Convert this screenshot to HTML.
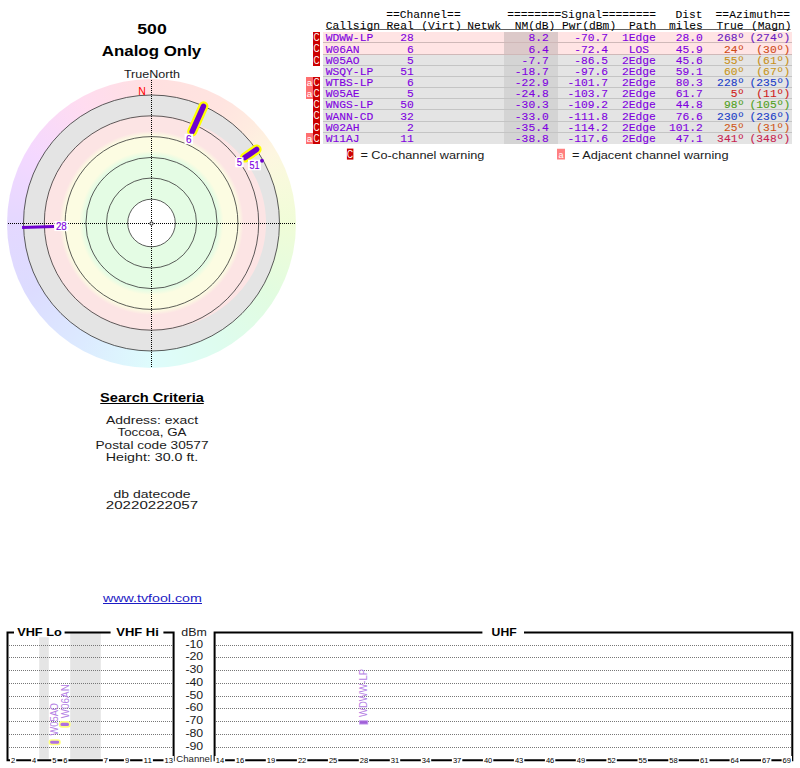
<!DOCTYPE html>
<html><head><meta charset="utf-8"><style>
html,body{margin:0;padding:0;background:#fff;width:800px;height:768px;overflow:hidden;position:relative}
#ring{position:absolute;left:7.0px;top:78.5px;width:289.0px;height:289.0px;border-radius:50%;
background:conic-gradient(from 0deg, #ffe0e0 0deg, #ffe4e0 30deg, #ffebe0 45deg, #fdf6e0 60deg, #f8fadc 72deg, #f0fcd8 90deg, #e2fce0 120deg, #defcee 150deg, #defcfc 180deg, #dceaff 210deg, #dcdcff 240deg, #e4d8ff 270deg, #f4d8ff 300deg, #ffdcf0 330deg, #ffe0e0 360deg)}
</style></head><body>
<div id="ring"></div>
<svg width="800" height="768" viewBox="0 0 800 768" style="position:absolute;left:0;top:0">
<circle cx="151.5" cy="223.0" r="128" fill="#e4e4e4"/>
<path d="M151.50,115.50 L154.31,115.53 L157.13,115.63 L159.94,115.79 L162.74,116.01 L165.55,116.30 L168.34,116.65 L171.13,117.07 L173.91,117.55 L176.68,118.10 L179.44,118.71 L182.19,119.39 L184.93,120.13 L187.64,120.93 L190.35,121.80 L193.03,122.74 L195.70,123.74 L198.34,124.80 L200.96,125.93 L203.56,127.13 L206.12,128.39 L208.67,129.71 L211.18,131.10 L213.66,132.56 L216.11,134.07 L218.52,135.66 L220.90,137.30 L223.23,139.01 L225.53,140.78 L227.78,142.62 L229.99,144.51 L232.15,146.47 L234.26,148.48 L236.32,150.56 L238.33,152.69 L240.28,154.88 L242.18,157.12 L244.01,159.42 L245.79,161.77 L247.50,164.17 L249.14,166.62 L250.72,169.13 L252.23,171.67 L253.68,174.27 L255.04,176.90 L256.34,179.58 L257.56,182.29 L258.70,185.04 L259.76,187.82 L260.74,190.64 L261.65,193.49 L262.47,196.36 L263.20,199.26 L263.85,202.18 L264.42,205.12 L264.90,208.07 L265.30,211.04 L265.60,214.02 L265.82,217.01 L265.96,220.00 L266.00,223.00 L265.96,226.00 L265.82,228.99 L265.60,231.98 L265.30,234.96 L264.90,237.93 L264.42,240.88 L263.85,243.82 L263.20,246.74 L262.47,249.64 L261.65,252.51 L260.74,255.36 L259.76,258.18 L258.70,260.96 L257.56,263.71 L256.34,266.42 L255.04,269.10 L253.68,271.73 L252.23,274.33 L250.72,276.87 L249.14,279.38 L247.50,281.83 L245.79,284.23 L244.01,286.58 L242.18,288.88 L240.28,291.12 L238.33,293.31 L236.32,295.44 L234.26,297.52 L232.15,299.53 L229.99,301.49 L227.78,303.38 L225.53,305.22 L223.23,306.99 L220.90,308.70 L218.52,310.34 L216.11,311.93 L213.66,313.44 L211.18,314.90 L208.67,316.29 L206.12,317.61 L203.56,318.87 L200.96,320.07 L198.34,321.20 L195.70,322.26 L193.03,323.26 L190.35,324.20 L187.64,325.07 L184.93,325.87 L182.19,326.61 L179.44,327.29 L176.68,327.90 L173.91,328.45 L171.13,328.93 L168.34,329.35 L165.55,329.70 L162.74,329.99 L159.94,330.21 L157.13,330.37 L154.31,330.47 L151.50,330.50 L148.69,330.46 L145.87,330.35 L143.07,330.17 L140.26,329.91 L137.47,329.58 L134.68,329.18 L131.91,328.70 L129.15,328.15 L126.40,327.53 L123.68,326.84 L120.97,326.07 L118.28,325.24 L115.62,324.33 L112.98,323.36 L110.36,322.32 L107.78,321.21 L105.22,320.03 L102.70,318.78 L100.21,317.47 L97.75,316.10 L95.33,314.66 L92.95,313.16 L90.61,311.59 L88.31,309.97 L86.06,308.29 L83.85,306.54 L81.68,304.74 L79.57,302.89 L77.50,300.98 L75.49,299.01 L73.52,297.00 L71.61,294.93 L69.76,292.82 L67.96,290.65 L66.21,288.44 L64.53,286.19 L62.91,283.89 L61.34,281.55 L59.84,279.17 L58.40,276.75 L57.03,274.29 L55.72,271.80 L54.47,269.28 L53.29,266.72 L52.18,264.14 L51.14,261.52 L50.17,258.88 L49.26,256.22 L48.43,253.53 L47.66,250.82 L46.97,248.10 L46.35,245.35 L45.80,242.59 L45.32,239.82 L44.92,237.03 L44.59,234.24 L44.33,231.43 L44.15,228.63 L44.04,225.81 L44.00,223.00 L44.04,220.19 L44.15,217.37 L44.33,214.57 L44.59,211.76 L44.92,208.97 L45.32,206.18 L45.80,203.41 L46.35,200.65 L46.97,197.90 L47.66,195.18 L48.43,192.47 L49.26,189.78 L50.17,187.12 L51.14,184.48 L52.18,181.86 L53.29,179.28 L54.47,176.72 L55.72,174.20 L57.03,171.71 L58.40,169.25 L59.84,166.83 L61.34,164.45 L62.91,162.11 L64.53,159.81 L66.21,157.56 L67.96,155.35 L69.76,153.18 L71.61,151.07 L73.52,149.00 L75.49,146.99 L77.50,145.02 L79.57,143.11 L81.68,141.26 L83.85,139.46 L86.06,137.71 L88.31,136.03 L90.61,134.41 L92.95,132.84 L95.33,131.34 L97.75,129.90 L100.21,128.53 L102.70,127.22 L105.22,125.97 L107.78,124.79 L110.36,123.68 L112.98,122.64 L115.62,121.67 L118.28,120.76 L120.97,119.93 L123.68,119.16 L126.40,118.47 L129.15,117.85 L131.91,117.30 L134.68,116.82 L137.47,116.42 L140.26,116.09 L143.07,115.83 L145.87,115.65 L148.69,115.54 Z" fill="#fce4e4"/>
<defs><radialGradient id="bands" gradientUnits="userSpaceOnUse" cx="151.5" cy="223.0" r="92"><stop offset="0.7283" stop-color="#e4fce4"/><stop offset="0.7826" stop-color="#fcfce2"/><stop offset="0.9457" stop-color="#fcfce2"/><stop offset="1" stop-color="#fce4e4"/></radialGradient></defs>
<circle cx="151.5" cy="223.0" r="92" fill="url(#bands)"/>
<circle cx="151.5" cy="223.0" r="23.8" fill="#ffffff"/>
<circle cx="151.5" cy="223.0" r="23.8" fill="none" stroke="#333" stroke-width="0.8"/>
<circle cx="151.5" cy="223.0" r="45" fill="none" stroke="#333" stroke-width="0.8"/>
<circle cx="151.5" cy="223.0" r="65.6" fill="none" stroke="#333" stroke-width="0.8"/>
<circle cx="151.5" cy="223.0" r="86.4" fill="none" stroke="#333" stroke-width="0.8"/>
<circle cx="151.5" cy="223.0" r="107.2" fill="none" stroke="#333" stroke-width="0.8"/>
<circle cx="151.5" cy="223.0" r="128" fill="none" stroke="#333" stroke-width="0.8"/>
<line x1="8" y1="223.5" x2="296" y2="223.5" stroke="#000" stroke-width="1" stroke-dasharray="1 1"/>
<line x1="151.5" y1="80" x2="151.5" y2="368" stroke="#000" stroke-width="1" stroke-dasharray="1 1"/>
<circle cx="151.5" cy="223.5" r="1.6" fill="#fff" stroke="#000" stroke-width="1"/>
<line x1="54.06" y1="226.40" x2="22.08" y2="227.52" stroke="#6e00d0" stroke-width="3"/>
<line x1="192.17" y1="131.65" x2="203.44" y2="106.34" stroke="#ffff00" stroke-width="10" stroke-linecap="round"/>
<line x1="192.17" y1="131.65" x2="203.44" y2="106.34" stroke="#6e00d0" stroke-width="5.5" stroke-linecap="round"/>
<line x1="244.88" y1="157.61" x2="256.60" y2="149.41" stroke="#ffff00" stroke-width="10" stroke-linecap="round"/>
<line x1="244.88" y1="157.61" x2="256.60" y2="149.41" stroke="#6e00d0" stroke-width="5.5" stroke-linecap="round"/>
<rect x="54.4" y="221.0" width="13.850000000000001" height="10.099999999999994" fill="#fff"/>
<text x="61.325" y="229.6" font-family="Liberation Sans" font-size="10.3" fill="#8000e0" stroke="#8000e0" stroke-width="0.15" text-anchor="middle" textLength="10.850000000000001" lengthAdjust="spacingAndGlyphs">28</text>
<rect x="184.6" y="133.8" width="8.5" height="10.399999999999977" fill="#fff"/>
<text x="188.85" y="142.7" font-family="Liberation Sans" font-size="10.3" fill="#8000e0" stroke="#8000e0" stroke-width="0.15" text-anchor="middle" textLength="5.5" lengthAdjust="spacingAndGlyphs">6</text>
<rect x="235.25" y="157.25" width="8.25" height="10.0" fill="#fff"/>
<text x="239.375" y="165.75" font-family="Liberation Sans" font-size="10.3" fill="#8000e0" stroke="#8000e0" stroke-width="0.15" text-anchor="middle" textLength="5.25" lengthAdjust="spacingAndGlyphs">5</text>
<rect x="248.0" y="159.75" width="13.0" height="10.5" fill="#fff"/>
<text x="254.5" y="168.75" font-family="Liberation Sans" font-size="10.3" fill="#8000e0" stroke="#8000e0" stroke-width="0.15" text-anchor="middle" textLength="10.0" lengthAdjust="spacingAndGlyphs">51</text>
<circle cx="262" cy="160.75" r="1.9" fill="#6e00d0"/>
<text x="142" y="95" font-family="Liberation Sans" font-size="10.5" fill="#ff0000" text-anchor="middle">N</text>
<text x="152" y="34" font-family="Liberation Sans" font-size="14.5" font-weight="bold" fill="#000" text-anchor="middle" textLength="29.5" lengthAdjust="spacingAndGlyphs" >500</text>
<text x="151.5" y="55.7" font-family="Liberation Sans" font-size="14.5" font-weight="bold" fill="#000" text-anchor="middle" textLength="99.5" lengthAdjust="spacingAndGlyphs" >Analog Only</text>
<text x="151.9" y="78" font-family="Liberation Sans" font-size="11.2" font-weight="normal" fill="#1a1a1a" text-anchor="middle" textLength="56" lengthAdjust="spacingAndGlyphs" >TrueNorth</text>
<rect x="323" y="32" width="469" height="11" fill="#ffe4e4"/>
<rect x="504" y="32" width="54" height="11" fill="#dcc9c9"/>
<rect x="323" y="42" width="469" height="1" fill="#cfb8b8"/>
<rect x="323" y="43" width="469" height="12" fill="#ffe4e4"/>
<rect x="504" y="43" width="54" height="12" fill="#dcc9c9"/>
<rect x="323" y="54" width="469" height="1" fill="#cfb8b8"/>
<rect x="323" y="55" width="469" height="11" fill="#e4e4e4"/>
<rect x="504" y="55" width="54" height="11" fill="#d4d4d4"/>
<rect x="323" y="65" width="469" height="1" fill="#c4c4c4"/>
<rect x="323" y="66" width="469" height="11" fill="#e4e4e4"/>
<rect x="504" y="66" width="54" height="11" fill="#d4d4d4"/>
<rect x="323" y="76" width="469" height="1" fill="#c4c4c4"/>
<rect x="323" y="77" width="469" height="11" fill="#e4e4e4"/>
<rect x="504" y="77" width="54" height="11" fill="#d4d4d4"/>
<rect x="323" y="87" width="469" height="1" fill="#c4c4c4"/>
<rect x="323" y="88" width="469" height="11" fill="#e4e4e4"/>
<rect x="504" y="88" width="54" height="11" fill="#d4d4d4"/>
<rect x="323" y="98" width="469" height="1" fill="#c4c4c4"/>
<rect x="323" y="99" width="469" height="11" fill="#e4e4e4"/>
<rect x="504" y="99" width="54" height="11" fill="#d4d4d4"/>
<rect x="323" y="109" width="469" height="1" fill="#c4c4c4"/>
<rect x="323" y="110" width="469" height="12" fill="#e4e4e4"/>
<rect x="504" y="110" width="54" height="12" fill="#d4d4d4"/>
<rect x="323" y="121" width="469" height="1" fill="#c4c4c4"/>
<rect x="323" y="122" width="469" height="11" fill="#e4e4e4"/>
<rect x="504" y="122" width="54" height="11" fill="#d4d4d4"/>
<rect x="323" y="132" width="469" height="1" fill="#c4c4c4"/>
<rect x="323" y="133" width="469" height="11" fill="#e4e4e4"/>
<rect x="504" y="133" width="54" height="11" fill="#d4d4d4"/>
<rect x="325.8" y="29" width="464.7" height="1" fill="#606060"/>
<text x="386.2" y="17.5" font-family="Liberation Mono" font-size="11.8" fill="#000" stroke="#000" stroke-width="0.05" text-anchor="start" textLength="74.47" lengthAdjust="spacingAndGlyphs" xml:space="preserve">==Channel==</text>
<text x="507.2" y="17.5" font-family="Liberation Mono" font-size="11.8" fill="#000" stroke="#000" stroke-width="0.05" text-anchor="start" textLength="148.94" lengthAdjust="spacingAndGlyphs" xml:space="preserve">========Signal========</text>
<text x="675.5" y="17.5" font-family="Liberation Mono" font-size="11.8" fill="#000" stroke="#000" stroke-width="0.05" text-anchor="start" textLength="27.08" lengthAdjust="spacingAndGlyphs" xml:space="preserve">Dist</text>
<text x="715.6" y="17.5" font-family="Liberation Mono" font-size="11.8" fill="#000" stroke="#000" stroke-width="0.05" text-anchor="start" textLength="74.47" lengthAdjust="spacingAndGlyphs" xml:space="preserve">==Azimuth==</text>
<text x="325.8" y="28.75" font-family="Liberation Mono" font-size="11.8" fill="#000" stroke="#000" stroke-width="0.05" text-anchor="start" textLength="54.16" lengthAdjust="spacingAndGlyphs" xml:space="preserve">Callsign</text>
<text x="386.6" y="28.75" font-family="Liberation Mono" font-size="11.8" fill="#000" stroke="#000" stroke-width="0.05" text-anchor="start" textLength="27.08" lengthAdjust="spacingAndGlyphs" xml:space="preserve">Real</text>
<text x="421.2" y="28.75" font-family="Liberation Mono" font-size="11.8" fill="#000" stroke="#000" stroke-width="0.05" text-anchor="start" textLength="40.62" lengthAdjust="spacingAndGlyphs" xml:space="preserve">(Virt)</text>
<text x="467.2" y="28.75" font-family="Liberation Mono" font-size="11.8" fill="#000" stroke="#000" stroke-width="0.05" text-anchor="start" textLength="33.85" lengthAdjust="spacingAndGlyphs" xml:space="preserve">Netwk</text>
<text x="514.7" y="28.75" font-family="Liberation Mono" font-size="11.8" fill="#000" stroke="#000" stroke-width="0.05" text-anchor="start" textLength="40.62" lengthAdjust="spacingAndGlyphs" xml:space="preserve">NM(dB)</text>
<text x="562.0" y="28.75" font-family="Liberation Mono" font-size="11.8" fill="#000" stroke="#000" stroke-width="0.05" text-anchor="start" textLength="54.16" lengthAdjust="spacingAndGlyphs" xml:space="preserve">Pwr(dBm)</text>
<text x="629.1" y="28.75" font-family="Liberation Mono" font-size="11.8" fill="#000" stroke="#000" stroke-width="0.05" text-anchor="start" textLength="27.08" lengthAdjust="spacingAndGlyphs" xml:space="preserve">Path</text>
<text x="669.0" y="28.75" font-family="Liberation Mono" font-size="11.8" fill="#000" stroke="#000" stroke-width="0.05" text-anchor="start" textLength="33.85" lengthAdjust="spacingAndGlyphs" xml:space="preserve">miles</text>
<text x="716.4" y="28.75" font-family="Liberation Mono" font-size="11.8" fill="#000" stroke="#000" stroke-width="0.05" text-anchor="start" textLength="27.08" lengthAdjust="spacingAndGlyphs" xml:space="preserve">True</text>
<text x="750.9" y="28.75" font-family="Liberation Mono" font-size="11.8" fill="#000" stroke="#000" stroke-width="0.05" text-anchor="start" textLength="40.62" lengthAdjust="spacingAndGlyphs" xml:space="preserve">(Magn)</text>
<text x="325.8" y="40.8" font-family="Liberation Mono" font-size="11.8" fill="#8000e0" stroke="#8000e0" stroke-width="0.12" text-anchor="start" textLength="47.39" lengthAdjust="spacingAndGlyphs" xml:space="preserve">WDWW-LP</text>
<text x="413.8" y="40.8" font-family="Liberation Mono" font-size="11.8" fill="#8000e0" stroke="#8000e0" stroke-width="0.12" text-anchor="end" textLength="13.54" lengthAdjust="spacingAndGlyphs" xml:space="preserve">28</text>
<text x="548.7" y="40.8" font-family="Liberation Mono" font-size="11.8" fill="#8000e0" stroke="#8000e0" stroke-width="0.12" text-anchor="end" textLength="20.31" lengthAdjust="spacingAndGlyphs" xml:space="preserve">8.2</text>
<text x="608.1" y="40.8" font-family="Liberation Mono" font-size="11.8" fill="#8000e0" stroke="#8000e0" stroke-width="0.12" text-anchor="end" textLength="33.85" lengthAdjust="spacingAndGlyphs" xml:space="preserve">-70.7</text>
<text x="638.8" y="40.8" font-family="Liberation Mono" font-size="11.8" fill="#8000e0" stroke="#8000e0" stroke-width="0.12" text-anchor="middle" textLength="33.85" lengthAdjust="spacingAndGlyphs" xml:space="preserve">1Edge</text>
<text x="702.8" y="40.8" font-family="Liberation Mono" font-size="11.8" fill="#8000e0" stroke="#8000e0" stroke-width="0.12" text-anchor="end" textLength="27.08" lengthAdjust="spacingAndGlyphs" xml:space="preserve">28.0</text>
<text x="744.2" y="40.8" font-family="Liberation Mono" font-size="11.8" fill="#6a20c0" stroke="#6a20c0" stroke-width="0.12" text-anchor="end" textLength="27.08" lengthAdjust="spacingAndGlyphs" xml:space="preserve">268º</text>
<text x="790.2" y="40.8" font-family="Liberation Mono" font-size="11.8" fill="#6a20c0" stroke="#6a20c0" stroke-width="0.12" text-anchor="end" textLength="40.62" lengthAdjust="spacingAndGlyphs" xml:space="preserve">(274º)</text>
<rect x="313" y="32.00" width="7" height="11.00" fill="#cc0000"/>
<text x="316.5" y="41.30" font-family="Liberation Sans" font-size="10" fill="#fff" text-anchor="middle" textLength="6" lengthAdjust="spacingAndGlyphs">C</text>
<text x="325.8" y="52.8" font-family="Liberation Mono" font-size="11.8" fill="#8000e0" stroke="#8000e0" stroke-width="0.12" text-anchor="start" textLength="33.85" lengthAdjust="spacingAndGlyphs" xml:space="preserve">W06AN</text>
<text x="413.8" y="52.8" font-family="Liberation Mono" font-size="11.8" fill="#8000e0" stroke="#8000e0" stroke-width="0.12" text-anchor="end" textLength="6.77" lengthAdjust="spacingAndGlyphs" xml:space="preserve">6</text>
<text x="548.7" y="52.8" font-family="Liberation Mono" font-size="11.8" fill="#8000e0" stroke="#8000e0" stroke-width="0.12" text-anchor="end" textLength="20.31" lengthAdjust="spacingAndGlyphs" xml:space="preserve">6.4</text>
<text x="608.1" y="52.8" font-family="Liberation Mono" font-size="11.8" fill="#8000e0" stroke="#8000e0" stroke-width="0.12" text-anchor="end" textLength="33.85" lengthAdjust="spacingAndGlyphs" xml:space="preserve">-72.4</text>
<text x="638.8" y="52.8" font-family="Liberation Mono" font-size="11.8" fill="#8000e0" stroke="#8000e0" stroke-width="0.12" text-anchor="middle" textLength="20.31" lengthAdjust="spacingAndGlyphs" xml:space="preserve">LOS</text>
<text x="702.8" y="52.8" font-family="Liberation Mono" font-size="11.8" fill="#8000e0" stroke="#8000e0" stroke-width="0.12" text-anchor="end" textLength="27.08" lengthAdjust="spacingAndGlyphs" xml:space="preserve">45.9</text>
<text x="744.2" y="52.8" font-family="Liberation Mono" font-size="11.8" fill="#d04a18" stroke="#d04a18" stroke-width="0.12" text-anchor="end" textLength="20.31" lengthAdjust="spacingAndGlyphs" xml:space="preserve">24º</text>
<text x="790.2" y="52.8" font-family="Liberation Mono" font-size="11.8" fill="#d04a18" stroke="#d04a18" stroke-width="0.12" text-anchor="end" textLength="33.85" lengthAdjust="spacingAndGlyphs" xml:space="preserve">(30º)</text>
<rect x="313" y="43.00" width="7" height="12.00" fill="#cc0000"/>
<text x="316.5" y="52.30" font-family="Liberation Sans" font-size="10" fill="#fff" text-anchor="middle" textLength="6" lengthAdjust="spacingAndGlyphs">C</text>
<text x="325.8" y="63.8" font-family="Liberation Mono" font-size="11.8" fill="#8000e0" stroke="#8000e0" stroke-width="0.12" text-anchor="start" textLength="33.85" lengthAdjust="spacingAndGlyphs" xml:space="preserve">W05AO</text>
<text x="413.8" y="63.8" font-family="Liberation Mono" font-size="11.8" fill="#8000e0" stroke="#8000e0" stroke-width="0.12" text-anchor="end" textLength="6.77" lengthAdjust="spacingAndGlyphs" xml:space="preserve">5</text>
<text x="548.7" y="63.8" font-family="Liberation Mono" font-size="11.8" fill="#8000e0" stroke="#8000e0" stroke-width="0.12" text-anchor="end" textLength="27.08" lengthAdjust="spacingAndGlyphs" xml:space="preserve">-7.7</text>
<text x="608.1" y="63.8" font-family="Liberation Mono" font-size="11.8" fill="#8000e0" stroke="#8000e0" stroke-width="0.12" text-anchor="end" textLength="33.85" lengthAdjust="spacingAndGlyphs" xml:space="preserve">-86.5</text>
<text x="638.8" y="63.8" font-family="Liberation Mono" font-size="11.8" fill="#8000e0" stroke="#8000e0" stroke-width="0.12" text-anchor="middle" textLength="33.85" lengthAdjust="spacingAndGlyphs" xml:space="preserve">2Edge</text>
<text x="702.8" y="63.8" font-family="Liberation Mono" font-size="11.8" fill="#8000e0" stroke="#8000e0" stroke-width="0.12" text-anchor="end" textLength="27.08" lengthAdjust="spacingAndGlyphs" xml:space="preserve">45.6</text>
<text x="744.2" y="63.8" font-family="Liberation Mono" font-size="11.8" fill="#c8901a" stroke="#c8901a" stroke-width="0.12" text-anchor="end" textLength="20.31" lengthAdjust="spacingAndGlyphs" xml:space="preserve">55º</text>
<text x="790.2" y="63.8" font-family="Liberation Mono" font-size="11.8" fill="#c8901a" stroke="#c8901a" stroke-width="0.12" text-anchor="end" textLength="33.85" lengthAdjust="spacingAndGlyphs" xml:space="preserve">(61º)</text>
<rect x="313" y="55.00" width="7" height="11.00" fill="#cc0000"/>
<text x="316.5" y="64.30" font-family="Liberation Sans" font-size="10" fill="#fff" text-anchor="middle" textLength="6" lengthAdjust="spacingAndGlyphs">C</text>
<text x="325.8" y="74.8" font-family="Liberation Mono" font-size="11.8" fill="#8000e0" stroke="#8000e0" stroke-width="0.12" text-anchor="start" textLength="47.39" lengthAdjust="spacingAndGlyphs" xml:space="preserve">WSQY-LP</text>
<text x="413.8" y="74.8" font-family="Liberation Mono" font-size="11.8" fill="#8000e0" stroke="#8000e0" stroke-width="0.12" text-anchor="end" textLength="13.54" lengthAdjust="spacingAndGlyphs" xml:space="preserve">51</text>
<text x="548.7" y="74.8" font-family="Liberation Mono" font-size="11.8" fill="#8000e0" stroke="#8000e0" stroke-width="0.12" text-anchor="end" textLength="33.85" lengthAdjust="spacingAndGlyphs" xml:space="preserve">-18.7</text>
<text x="608.1" y="74.8" font-family="Liberation Mono" font-size="11.8" fill="#8000e0" stroke="#8000e0" stroke-width="0.12" text-anchor="end" textLength="33.85" lengthAdjust="spacingAndGlyphs" xml:space="preserve">-97.6</text>
<text x="638.8" y="74.8" font-family="Liberation Mono" font-size="11.8" fill="#8000e0" stroke="#8000e0" stroke-width="0.12" text-anchor="middle" textLength="33.85" lengthAdjust="spacingAndGlyphs" xml:space="preserve">2Edge</text>
<text x="702.8" y="74.8" font-family="Liberation Mono" font-size="11.8" fill="#8000e0" stroke="#8000e0" stroke-width="0.12" text-anchor="end" textLength="27.08" lengthAdjust="spacingAndGlyphs" xml:space="preserve">59.1</text>
<text x="744.2" y="74.8" font-family="Liberation Mono" font-size="11.8" fill="#c8961a" stroke="#c8961a" stroke-width="0.12" text-anchor="end" textLength="20.31" lengthAdjust="spacingAndGlyphs" xml:space="preserve">60º</text>
<text x="790.2" y="74.8" font-family="Liberation Mono" font-size="11.8" fill="#c8961a" stroke="#c8961a" stroke-width="0.12" text-anchor="end" textLength="33.85" lengthAdjust="spacingAndGlyphs" xml:space="preserve">(67º)</text>
<text x="325.8" y="85.8" font-family="Liberation Mono" font-size="11.8" fill="#8000e0" stroke="#8000e0" stroke-width="0.12" text-anchor="start" textLength="47.39" lengthAdjust="spacingAndGlyphs" xml:space="preserve">WTBS-LP</text>
<text x="413.8" y="85.8" font-family="Liberation Mono" font-size="11.8" fill="#8000e0" stroke="#8000e0" stroke-width="0.12" text-anchor="end" textLength="6.77" lengthAdjust="spacingAndGlyphs" xml:space="preserve">6</text>
<text x="548.7" y="85.8" font-family="Liberation Mono" font-size="11.8" fill="#8000e0" stroke="#8000e0" stroke-width="0.12" text-anchor="end" textLength="33.85" lengthAdjust="spacingAndGlyphs" xml:space="preserve">-22.9</text>
<text x="608.1" y="85.8" font-family="Liberation Mono" font-size="11.8" fill="#8000e0" stroke="#8000e0" stroke-width="0.12" text-anchor="end" textLength="40.62" lengthAdjust="spacingAndGlyphs" xml:space="preserve">-101.7</text>
<text x="638.8" y="85.8" font-family="Liberation Mono" font-size="11.8" fill="#8000e0" stroke="#8000e0" stroke-width="0.12" text-anchor="middle" textLength="33.85" lengthAdjust="spacingAndGlyphs" xml:space="preserve">2Edge</text>
<text x="702.8" y="85.8" font-family="Liberation Mono" font-size="11.8" fill="#8000e0" stroke="#8000e0" stroke-width="0.12" text-anchor="end" textLength="27.08" lengthAdjust="spacingAndGlyphs" xml:space="preserve">80.3</text>
<text x="744.2" y="85.8" font-family="Liberation Mono" font-size="11.8" fill="#2040c8" stroke="#2040c8" stroke-width="0.12" text-anchor="end" textLength="27.08" lengthAdjust="spacingAndGlyphs" xml:space="preserve">228º</text>
<text x="790.2" y="85.8" font-family="Liberation Mono" font-size="11.8" fill="#2040c8" stroke="#2040c8" stroke-width="0.12" text-anchor="end" textLength="40.62" lengthAdjust="spacingAndGlyphs" xml:space="preserve">(235º)</text>
<rect x="313" y="77.00" width="7" height="11.00" fill="#cc0000"/>
<text x="316.5" y="86.30" font-family="Liberation Sans" font-size="10" fill="#fff" text-anchor="middle" textLength="6" lengthAdjust="spacingAndGlyphs">C</text>
<rect x="306" y="77.00" width="7" height="11.00" fill="#ff7070"/>
<text x="309.5" y="86.30" font-family="Liberation Sans" font-size="9" fill="#fff" text-anchor="middle" textLength="5.5" lengthAdjust="spacingAndGlyphs">a</text>
<text x="325.8" y="96.8" font-family="Liberation Mono" font-size="11.8" fill="#8000e0" stroke="#8000e0" stroke-width="0.12" text-anchor="start" textLength="33.85" lengthAdjust="spacingAndGlyphs" xml:space="preserve">W05AE</text>
<text x="413.8" y="96.8" font-family="Liberation Mono" font-size="11.8" fill="#8000e0" stroke="#8000e0" stroke-width="0.12" text-anchor="end" textLength="6.77" lengthAdjust="spacingAndGlyphs" xml:space="preserve">5</text>
<text x="548.7" y="96.8" font-family="Liberation Mono" font-size="11.8" fill="#8000e0" stroke="#8000e0" stroke-width="0.12" text-anchor="end" textLength="33.85" lengthAdjust="spacingAndGlyphs" xml:space="preserve">-24.8</text>
<text x="608.1" y="96.8" font-family="Liberation Mono" font-size="11.8" fill="#8000e0" stroke="#8000e0" stroke-width="0.12" text-anchor="end" textLength="40.62" lengthAdjust="spacingAndGlyphs" xml:space="preserve">-103.7</text>
<text x="638.8" y="96.8" font-family="Liberation Mono" font-size="11.8" fill="#8000e0" stroke="#8000e0" stroke-width="0.12" text-anchor="middle" textLength="33.85" lengthAdjust="spacingAndGlyphs" xml:space="preserve">2Edge</text>
<text x="702.8" y="96.8" font-family="Liberation Mono" font-size="11.8" fill="#8000e0" stroke="#8000e0" stroke-width="0.12" text-anchor="end" textLength="27.08" lengthAdjust="spacingAndGlyphs" xml:space="preserve">61.7</text>
<text x="744.2" y="96.8" font-family="Liberation Mono" font-size="11.8" fill="#d02018" stroke="#d02018" stroke-width="0.12" text-anchor="end" textLength="13.54" lengthAdjust="spacingAndGlyphs" xml:space="preserve">5º</text>
<text x="790.2" y="96.8" font-family="Liberation Mono" font-size="11.8" fill="#d02018" stroke="#d02018" stroke-width="0.12" text-anchor="end" textLength="33.85" lengthAdjust="spacingAndGlyphs" xml:space="preserve">(11º)</text>
<rect x="313" y="88.00" width="7" height="11.00" fill="#cc0000"/>
<text x="316.5" y="97.30" font-family="Liberation Sans" font-size="10" fill="#fff" text-anchor="middle" textLength="6" lengthAdjust="spacingAndGlyphs">C</text>
<rect x="306" y="88.00" width="7" height="11.00" fill="#ff7070"/>
<text x="309.5" y="97.30" font-family="Liberation Sans" font-size="9" fill="#fff" text-anchor="middle" textLength="5.5" lengthAdjust="spacingAndGlyphs">a</text>
<text x="325.8" y="107.8" font-family="Liberation Mono" font-size="11.8" fill="#8000e0" stroke="#8000e0" stroke-width="0.12" text-anchor="start" textLength="47.39" lengthAdjust="spacingAndGlyphs" xml:space="preserve">WNGS-LP</text>
<text x="413.8" y="107.8" font-family="Liberation Mono" font-size="11.8" fill="#8000e0" stroke="#8000e0" stroke-width="0.12" text-anchor="end" textLength="13.54" lengthAdjust="spacingAndGlyphs" xml:space="preserve">50</text>
<text x="548.7" y="107.8" font-family="Liberation Mono" font-size="11.8" fill="#8000e0" stroke="#8000e0" stroke-width="0.12" text-anchor="end" textLength="33.85" lengthAdjust="spacingAndGlyphs" xml:space="preserve">-30.3</text>
<text x="608.1" y="107.8" font-family="Liberation Mono" font-size="11.8" fill="#8000e0" stroke="#8000e0" stroke-width="0.12" text-anchor="end" textLength="40.62" lengthAdjust="spacingAndGlyphs" xml:space="preserve">-109.2</text>
<text x="638.8" y="107.8" font-family="Liberation Mono" font-size="11.8" fill="#8000e0" stroke="#8000e0" stroke-width="0.12" text-anchor="middle" textLength="33.85" lengthAdjust="spacingAndGlyphs" xml:space="preserve">2Edge</text>
<text x="702.8" y="107.8" font-family="Liberation Mono" font-size="11.8" fill="#8000e0" stroke="#8000e0" stroke-width="0.12" text-anchor="end" textLength="27.08" lengthAdjust="spacingAndGlyphs" xml:space="preserve">44.8</text>
<text x="744.2" y="107.8" font-family="Liberation Mono" font-size="11.8" fill="#50a020" stroke="#50a020" stroke-width="0.12" text-anchor="end" textLength="20.31" lengthAdjust="spacingAndGlyphs" xml:space="preserve">98º</text>
<text x="790.2" y="107.8" font-family="Liberation Mono" font-size="11.8" fill="#50a020" stroke="#50a020" stroke-width="0.12" text-anchor="end" textLength="40.62" lengthAdjust="spacingAndGlyphs" xml:space="preserve">(105º)</text>
<rect x="313" y="99.00" width="7" height="11.00" fill="#cc0000"/>
<text x="316.5" y="108.30" font-family="Liberation Sans" font-size="10" fill="#fff" text-anchor="middle" textLength="6" lengthAdjust="spacingAndGlyphs">C</text>
<text x="325.8" y="119.8" font-family="Liberation Mono" font-size="11.8" fill="#8000e0" stroke="#8000e0" stroke-width="0.12" text-anchor="start" textLength="47.39" lengthAdjust="spacingAndGlyphs" xml:space="preserve">WANN-CD</text>
<text x="413.8" y="119.8" font-family="Liberation Mono" font-size="11.8" fill="#8000e0" stroke="#8000e0" stroke-width="0.12" text-anchor="end" textLength="13.54" lengthAdjust="spacingAndGlyphs" xml:space="preserve">32</text>
<text x="548.7" y="119.8" font-family="Liberation Mono" font-size="11.8" fill="#8000e0" stroke="#8000e0" stroke-width="0.12" text-anchor="end" textLength="33.85" lengthAdjust="spacingAndGlyphs" xml:space="preserve">-33.0</text>
<text x="608.1" y="119.8" font-family="Liberation Mono" font-size="11.8" fill="#8000e0" stroke="#8000e0" stroke-width="0.12" text-anchor="end" textLength="40.62" lengthAdjust="spacingAndGlyphs" xml:space="preserve">-111.8</text>
<text x="638.8" y="119.8" font-family="Liberation Mono" font-size="11.8" fill="#8000e0" stroke="#8000e0" stroke-width="0.12" text-anchor="middle" textLength="33.85" lengthAdjust="spacingAndGlyphs" xml:space="preserve">2Edge</text>
<text x="702.8" y="119.8" font-family="Liberation Mono" font-size="11.8" fill="#8000e0" stroke="#8000e0" stroke-width="0.12" text-anchor="end" textLength="27.08" lengthAdjust="spacingAndGlyphs" xml:space="preserve">76.6</text>
<text x="744.2" y="119.8" font-family="Liberation Mono" font-size="11.8" fill="#2040c8" stroke="#2040c8" stroke-width="0.12" text-anchor="end" textLength="27.08" lengthAdjust="spacingAndGlyphs" xml:space="preserve">230º</text>
<text x="790.2" y="119.8" font-family="Liberation Mono" font-size="11.8" fill="#2040c8" stroke="#2040c8" stroke-width="0.12" text-anchor="end" textLength="40.62" lengthAdjust="spacingAndGlyphs" xml:space="preserve">(236º)</text>
<rect x="313" y="110.00" width="7" height="12.00" fill="#cc0000"/>
<text x="316.5" y="119.30" font-family="Liberation Sans" font-size="10" fill="#fff" text-anchor="middle" textLength="6" lengthAdjust="spacingAndGlyphs">C</text>
<text x="325.8" y="130.8" font-family="Liberation Mono" font-size="11.8" fill="#8000e0" stroke="#8000e0" stroke-width="0.12" text-anchor="start" textLength="33.85" lengthAdjust="spacingAndGlyphs" xml:space="preserve">W02AH</text>
<text x="413.8" y="130.8" font-family="Liberation Mono" font-size="11.8" fill="#8000e0" stroke="#8000e0" stroke-width="0.12" text-anchor="end" textLength="6.77" lengthAdjust="spacingAndGlyphs" xml:space="preserve">2</text>
<text x="548.7" y="130.8" font-family="Liberation Mono" font-size="11.8" fill="#8000e0" stroke="#8000e0" stroke-width="0.12" text-anchor="end" textLength="33.85" lengthAdjust="spacingAndGlyphs" xml:space="preserve">-35.4</text>
<text x="608.1" y="130.8" font-family="Liberation Mono" font-size="11.8" fill="#8000e0" stroke="#8000e0" stroke-width="0.12" text-anchor="end" textLength="40.62" lengthAdjust="spacingAndGlyphs" xml:space="preserve">-114.2</text>
<text x="638.8" y="130.8" font-family="Liberation Mono" font-size="11.8" fill="#8000e0" stroke="#8000e0" stroke-width="0.12" text-anchor="middle" textLength="33.85" lengthAdjust="spacingAndGlyphs" xml:space="preserve">2Edge</text>
<text x="702.8" y="130.8" font-family="Liberation Mono" font-size="11.8" fill="#8000e0" stroke="#8000e0" stroke-width="0.12" text-anchor="end" textLength="33.85" lengthAdjust="spacingAndGlyphs" xml:space="preserve">101.2</text>
<text x="744.2" y="130.8" font-family="Liberation Mono" font-size="11.8" fill="#d05818" stroke="#d05818" stroke-width="0.12" text-anchor="end" textLength="20.31" lengthAdjust="spacingAndGlyphs" xml:space="preserve">25º</text>
<text x="790.2" y="130.8" font-family="Liberation Mono" font-size="11.8" fill="#d05818" stroke="#d05818" stroke-width="0.12" text-anchor="end" textLength="33.85" lengthAdjust="spacingAndGlyphs" xml:space="preserve">(31º)</text>
<rect x="313" y="122.00" width="7" height="11.00" fill="#cc0000"/>
<text x="316.5" y="131.30" font-family="Liberation Sans" font-size="10" fill="#fff" text-anchor="middle" textLength="6" lengthAdjust="spacingAndGlyphs">C</text>
<text x="325.8" y="141.8" font-family="Liberation Mono" font-size="11.8" fill="#8000e0" stroke="#8000e0" stroke-width="0.12" text-anchor="start" textLength="33.85" lengthAdjust="spacingAndGlyphs" xml:space="preserve">W11AJ</text>
<text x="413.8" y="141.8" font-family="Liberation Mono" font-size="11.8" fill="#8000e0" stroke="#8000e0" stroke-width="0.12" text-anchor="end" textLength="13.54" lengthAdjust="spacingAndGlyphs" xml:space="preserve">11</text>
<text x="548.7" y="141.8" font-family="Liberation Mono" font-size="11.8" fill="#8000e0" stroke="#8000e0" stroke-width="0.12" text-anchor="end" textLength="33.85" lengthAdjust="spacingAndGlyphs" xml:space="preserve">-38.8</text>
<text x="608.1" y="141.8" font-family="Liberation Mono" font-size="11.8" fill="#8000e0" stroke="#8000e0" stroke-width="0.12" text-anchor="end" textLength="40.62" lengthAdjust="spacingAndGlyphs" xml:space="preserve">-117.6</text>
<text x="638.8" y="141.8" font-family="Liberation Mono" font-size="11.8" fill="#8000e0" stroke="#8000e0" stroke-width="0.12" text-anchor="middle" textLength="33.85" lengthAdjust="spacingAndGlyphs" xml:space="preserve">2Edge</text>
<text x="702.8" y="141.8" font-family="Liberation Mono" font-size="11.8" fill="#8000e0" stroke="#8000e0" stroke-width="0.12" text-anchor="end" textLength="27.08" lengthAdjust="spacingAndGlyphs" xml:space="preserve">47.1</text>
<text x="744.2" y="141.8" font-family="Liberation Mono" font-size="11.8" fill="#c81e50" stroke="#c81e50" stroke-width="0.12" text-anchor="end" textLength="27.08" lengthAdjust="spacingAndGlyphs" xml:space="preserve">341º</text>
<text x="790.2" y="141.8" font-family="Liberation Mono" font-size="11.8" fill="#c81e50" stroke="#c81e50" stroke-width="0.12" text-anchor="end" textLength="40.62" lengthAdjust="spacingAndGlyphs" xml:space="preserve">(348º)</text>
<rect x="313" y="133.00" width="7" height="11.00" fill="#cc0000"/>
<text x="316.5" y="142.30" font-family="Liberation Sans" font-size="10" fill="#fff" text-anchor="middle" textLength="6" lengthAdjust="spacingAndGlyphs">C</text>
<rect x="306" y="133.00" width="7" height="11.00" fill="#ff7070"/>
<text x="309.5" y="142.30" font-family="Liberation Sans" font-size="9" fill="#fff" text-anchor="middle" textLength="5.5" lengthAdjust="spacingAndGlyphs">a</text>
<rect x="346.9" y="148.6" width="6.5" height="11" fill="#cc0000"/>
<text x="350.1" y="157.6" font-family="Liberation Sans" font-size="10" fill="#fff" text-anchor="middle" textLength="6" lengthAdjust="spacingAndGlyphs">C</text>
<text x="360.4" y="158.75" font-family="Liberation Sans" font-size="11.2" font-weight="normal" fill="#1a1a1a" text-anchor="start" textLength="124" lengthAdjust="spacingAndGlyphs" >= Co-channel warning</text>
<rect x="557" y="148.75" width="8" height="10.75" fill="#ff8080"/>
<text x="561" y="157.6" font-family="Liberation Sans" font-size="9" fill="#fff" text-anchor="middle" textLength="5" lengthAdjust="spacingAndGlyphs">a</text>
<text x="572" y="158.75" font-family="Liberation Sans" font-size="11.2" font-weight="normal" fill="#1a1a1a" text-anchor="start" textLength="156.5" lengthAdjust="spacingAndGlyphs" >= Adjacent channel warning</text>
<text x="152" y="402" font-family="Liberation Sans" font-size="12" font-weight="bold" fill="#000" text-anchor="middle" textLength="104" lengthAdjust="spacingAndGlyphs" >Search Criteria</text>
<rect x="100.25" y="403" width="103.5" height="1" fill="#000"/>
<text x="152" y="423.5" font-family="Liberation Sans" font-size="11.2" font-weight="normal" fill="#1a1a1a" text-anchor="middle" textLength="92" lengthAdjust="spacingAndGlyphs" >Address: exact</text>
<text x="152" y="436.25" font-family="Liberation Sans" font-size="11.2" font-weight="normal" fill="#1a1a1a" text-anchor="middle" textLength="69" lengthAdjust="spacingAndGlyphs" >Toccoa, GA</text>
<text x="152" y="448.8" font-family="Liberation Sans" font-size="11.2" font-weight="normal" fill="#1a1a1a" text-anchor="middle" textLength="113" lengthAdjust="spacingAndGlyphs" >Postal code 30577</text>
<text x="152" y="460.6" font-family="Liberation Sans" font-size="11.2" font-weight="normal" fill="#1a1a1a" text-anchor="middle" textLength="92.5" lengthAdjust="spacingAndGlyphs" >Height: 30.0 ft.</text>
<text x="152" y="497.6" font-family="Liberation Sans" font-size="11.2" font-weight="normal" fill="#1a1a1a" text-anchor="middle" textLength="77" lengthAdjust="spacingAndGlyphs" >db datecode</text>
<text x="152" y="509.4" font-family="Liberation Sans" font-size="11.2" font-weight="normal" fill="#1a1a1a" text-anchor="middle" textLength="92.3" lengthAdjust="spacingAndGlyphs" >20220222057</text>
<text x="152.4" y="601.9" font-family="Liberation Sans" font-size="11.2" font-weight="normal" fill="#1c1cc4" text-anchor="middle" textLength="99" lengthAdjust="spacingAndGlyphs" >www.tvfool.com</text>
<rect x="103" y="603" width="99" height="1" fill="#1c1cc4"/>
<rect x="39.2" y="637.2" width="9.6" height="121.6" fill="#e5e5e5"/>
<rect x="70.2" y="633" width="30.6" height="125.8" fill="#e5e5e5"/>
<line x1="9" y1="645.50" x2="172.5" y2="645.50" stroke="#777" stroke-width="1" stroke-dasharray="1 1"/>
<line x1="216" y1="645.50" x2="791" y2="645.50" stroke="#777" stroke-width="1" stroke-dasharray="1 1"/>
<line x1="9" y1="657.50" x2="172.5" y2="657.50" stroke="#777" stroke-width="1" stroke-dasharray="1 1"/>
<line x1="216" y1="657.50" x2="791" y2="657.50" stroke="#777" stroke-width="1" stroke-dasharray="1 1"/>
<line x1="9" y1="670.50" x2="172.5" y2="670.50" stroke="#777" stroke-width="1" stroke-dasharray="1 1"/>
<line x1="216" y1="670.50" x2="791" y2="670.50" stroke="#777" stroke-width="1" stroke-dasharray="1 1"/>
<line x1="9" y1="683.50" x2="172.5" y2="683.50" stroke="#777" stroke-width="1" stroke-dasharray="1 1"/>
<line x1="216" y1="683.50" x2="791" y2="683.50" stroke="#777" stroke-width="1" stroke-dasharray="1 1"/>
<line x1="9" y1="696.50" x2="172.5" y2="696.50" stroke="#777" stroke-width="1" stroke-dasharray="1 1"/>
<line x1="216" y1="696.50" x2="791" y2="696.50" stroke="#777" stroke-width="1" stroke-dasharray="1 1"/>
<line x1="9" y1="708.50" x2="172.5" y2="708.50" stroke="#777" stroke-width="1" stroke-dasharray="1 1"/>
<line x1="216" y1="708.50" x2="791" y2="708.50" stroke="#777" stroke-width="1" stroke-dasharray="1 1"/>
<line x1="9" y1="721.50" x2="172.5" y2="721.50" stroke="#777" stroke-width="1" stroke-dasharray="1 1"/>
<line x1="216" y1="721.50" x2="791" y2="721.50" stroke="#777" stroke-width="1" stroke-dasharray="1 1"/>
<line x1="9" y1="734.50" x2="172.5" y2="734.50" stroke="#777" stroke-width="1" stroke-dasharray="1 1"/>
<line x1="216" y1="734.50" x2="791" y2="734.50" stroke="#777" stroke-width="1" stroke-dasharray="1 1"/>
<line x1="9" y1="747.50" x2="172.5" y2="747.50" stroke="#777" stroke-width="1" stroke-dasharray="1 1"/>
<line x1="216" y1="747.50" x2="791" y2="747.50" stroke="#777" stroke-width="1" stroke-dasharray="1 1"/>
<path d="M14 632.5 H7.5 V760.3 H173.6 V632.5 H163.4" fill="none" stroke="#000" stroke-width="2"/>
<path d="M64.6 632.5 H110.6" fill="none" stroke="#000" stroke-width="2"/>
<path d="M482.4 632.5 H214.6 V760.3 H792.3 V632.5 H524" fill="none" stroke="#000" stroke-width="2"/>
<text x="17.2" y="636.1" font-family="Liberation Sans" font-size="11.5" font-weight="bold" fill="#000" text-anchor="start" textLength="44.5" lengthAdjust="spacingAndGlyphs" >VHF Lo</text>
<text x="116.25" y="636.25" font-family="Liberation Sans" font-size="11.5" font-weight="bold" fill="#000" text-anchor="start" textLength="42.5" lengthAdjust="spacingAndGlyphs" >VHF Hi</text>
<text x="491.6" y="636" font-family="Liberation Sans" font-size="11.5" font-weight="bold" fill="#000" text-anchor="start" textLength="25" lengthAdjust="spacingAndGlyphs" >UHF</text>
<text x="181.25" y="636.25" font-family="Liberation Sans" font-size="11.2" font-weight="normal" fill="#1a1a1a" text-anchor="start" textLength="25.5" lengthAdjust="spacingAndGlyphs" >dBm</text>
<text x="203.2" y="647.8" font-family="Liberation Sans" font-size="11.2" font-weight="normal" fill="#1a1a1a" text-anchor="end" textLength="17.8" lengthAdjust="spacingAndGlyphs" >-10</text>
<text x="203.2" y="659.8" font-family="Liberation Sans" font-size="11.2" font-weight="normal" fill="#1a1a1a" text-anchor="end" textLength="17.8" lengthAdjust="spacingAndGlyphs" >-20</text>
<text x="203.2" y="672.8" font-family="Liberation Sans" font-size="11.2" font-weight="normal" fill="#1a1a1a" text-anchor="end" textLength="17.8" lengthAdjust="spacingAndGlyphs" >-30</text>
<text x="203.2" y="685.8" font-family="Liberation Sans" font-size="11.2" font-weight="normal" fill="#1a1a1a" text-anchor="end" textLength="17.8" lengthAdjust="spacingAndGlyphs" >-40</text>
<text x="203.2" y="698.8" font-family="Liberation Sans" font-size="11.2" font-weight="normal" fill="#1a1a1a" text-anchor="end" textLength="17.8" lengthAdjust="spacingAndGlyphs" >-50</text>
<text x="203.2" y="710.8" font-family="Liberation Sans" font-size="11.2" font-weight="normal" fill="#1a1a1a" text-anchor="end" textLength="17.8" lengthAdjust="spacingAndGlyphs" >-60</text>
<text x="203.2" y="723.8" font-family="Liberation Sans" font-size="11.2" font-weight="normal" fill="#1a1a1a" text-anchor="end" textLength="17.8" lengthAdjust="spacingAndGlyphs" >-70</text>
<text x="203.2" y="736.8" font-family="Liberation Sans" font-size="11.2" font-weight="normal" fill="#1a1a1a" text-anchor="end" textLength="17.8" lengthAdjust="spacingAndGlyphs" >-80</text>
<text x="203.2" y="749.8" font-family="Liberation Sans" font-size="11.2" font-weight="normal" fill="#1a1a1a" text-anchor="end" textLength="17.8" lengthAdjust="spacingAndGlyphs" >-90</text>
<text x="176.3" y="762.3" font-family="Liberation Sans" font-size="9.6" font-weight="normal" fill="#222" text-anchor="start" textLength="35.8" lengthAdjust="spacingAndGlyphs" >Channel</text>
<rect x="10.0" y="756" width="6.2" height="8" fill="#fff"/>
<text x="13.1" y="763" font-family="Liberation Sans" font-size="7.5" fill="#000" text-anchor="middle" textLength="4.2" lengthAdjust="spacingAndGlyphs">2</text>
<rect x="31.1" y="756" width="6.2" height="8" fill="#fff"/>
<text x="34.2" y="763" font-family="Liberation Sans" font-size="7.5" fill="#000" text-anchor="middle" textLength="4.2" lengthAdjust="spacingAndGlyphs">4</text>
<rect x="51.25" y="756" width="6.2" height="8" fill="#fff"/>
<text x="54.35" y="763" font-family="Liberation Sans" font-size="7.5" fill="#000" text-anchor="middle" textLength="4.2" lengthAdjust="spacingAndGlyphs">5</text>
<rect x="62.24999999999999" y="756" width="6.2" height="8" fill="#fff"/>
<text x="65.35" y="763" font-family="Liberation Sans" font-size="7.5" fill="#000" text-anchor="middle" textLength="4.2" lengthAdjust="spacingAndGlyphs">6</text>
<rect x="102.80000000000001" y="756" width="6.2" height="8" fill="#fff"/>
<text x="105.9" y="763" font-family="Liberation Sans" font-size="7.5" fill="#000" text-anchor="middle" textLength="4.2" lengthAdjust="spacingAndGlyphs">7</text>
<rect x="123.9" y="756" width="6.2" height="8" fill="#fff"/>
<text x="127" y="763" font-family="Liberation Sans" font-size="7.5" fill="#000" text-anchor="middle" textLength="4.2" lengthAdjust="spacingAndGlyphs">9</text>
<rect x="142.5" y="756" width="10.4" height="8" fill="#fff"/>
<text x="147.7" y="763" font-family="Liberation Sans" font-size="7.5" fill="#000" text-anchor="middle" textLength="8.4" lengthAdjust="spacingAndGlyphs">11</text>
<rect x="163.5" y="756" width="10.4" height="8" fill="#fff"/>
<text x="168.7" y="763" font-family="Liberation Sans" font-size="7.5" fill="#000" text-anchor="middle" textLength="8.4" lengthAdjust="spacingAndGlyphs">13</text>
<rect x="214.70000000000002" y="756" width="10.4" height="8" fill="#fff"/>
<text x="219.9" y="763" font-family="Liberation Sans" font-size="7.5" fill="#000" text-anchor="middle" textLength="8.4" lengthAdjust="spacingAndGlyphs">14</text>
<rect x="234.8" y="756" width="10.4" height="8" fill="#fff"/>
<text x="240" y="763" font-family="Liberation Sans" font-size="7.5" fill="#000" text-anchor="middle" textLength="8.4" lengthAdjust="spacingAndGlyphs">16</text>
<rect x="265.8" y="756" width="10.4" height="8" fill="#fff"/>
<text x="271" y="763" font-family="Liberation Sans" font-size="7.5" fill="#000" text-anchor="middle" textLength="8.4" lengthAdjust="spacingAndGlyphs">19</text>
<rect x="296.90000000000003" y="756" width="10.4" height="8" fill="#fff"/>
<text x="302.1" y="763" font-family="Liberation Sans" font-size="7.5" fill="#000" text-anchor="middle" textLength="8.4" lengthAdjust="spacingAndGlyphs">22</text>
<rect x="327.90000000000003" y="756" width="10.4" height="8" fill="#fff"/>
<text x="333.1" y="763" font-family="Liberation Sans" font-size="7.5" fill="#000" text-anchor="middle" textLength="8.4" lengthAdjust="spacingAndGlyphs">25</text>
<rect x="358.8" y="756" width="10.4" height="8" fill="#fff"/>
<text x="364" y="763" font-family="Liberation Sans" font-size="7.5" fill="#000" text-anchor="middle" textLength="8.4" lengthAdjust="spacingAndGlyphs">28</text>
<rect x="389.8" y="756" width="10.4" height="8" fill="#fff"/>
<text x="395" y="763" font-family="Liberation Sans" font-size="7.5" fill="#000" text-anchor="middle" textLength="8.4" lengthAdjust="spacingAndGlyphs">31</text>
<rect x="420.8" y="756" width="10.4" height="8" fill="#fff"/>
<text x="426" y="763" font-family="Liberation Sans" font-size="7.5" fill="#000" text-anchor="middle" textLength="8.4" lengthAdjust="spacingAndGlyphs">34</text>
<rect x="451.90000000000003" y="756" width="10.4" height="8" fill="#fff"/>
<text x="457.1" y="763" font-family="Liberation Sans" font-size="7.5" fill="#000" text-anchor="middle" textLength="8.4" lengthAdjust="spacingAndGlyphs">37</text>
<rect x="482.90000000000003" y="756" width="10.4" height="8" fill="#fff"/>
<text x="488.1" y="763" font-family="Liberation Sans" font-size="7.5" fill="#000" text-anchor="middle" textLength="8.4" lengthAdjust="spacingAndGlyphs">40</text>
<rect x="513.9" y="756" width="10.4" height="8" fill="#fff"/>
<text x="519.1" y="763" font-family="Liberation Sans" font-size="7.5" fill="#000" text-anchor="middle" textLength="8.4" lengthAdjust="spacingAndGlyphs">43</text>
<rect x="544.9" y="756" width="10.4" height="8" fill="#fff"/>
<text x="550.1" y="763" font-family="Liberation Sans" font-size="7.5" fill="#000" text-anchor="middle" textLength="8.4" lengthAdjust="spacingAndGlyphs">46</text>
<rect x="575.8" y="756" width="10.4" height="8" fill="#fff"/>
<text x="581" y="763" font-family="Liberation Sans" font-size="7.5" fill="#000" text-anchor="middle" textLength="8.4" lengthAdjust="spacingAndGlyphs">49</text>
<rect x="606.4" y="756" width="10.4" height="8" fill="#fff"/>
<text x="611.6" y="763" font-family="Liberation Sans" font-size="7.5" fill="#000" text-anchor="middle" textLength="8.4" lengthAdjust="spacingAndGlyphs">52</text>
<rect x="637.5" y="756" width="10.4" height="8" fill="#fff"/>
<text x="642.7" y="763" font-family="Liberation Sans" font-size="7.5" fill="#000" text-anchor="middle" textLength="8.4" lengthAdjust="spacingAndGlyphs">55</text>
<rect x="668.3" y="756" width="10.4" height="8" fill="#fff"/>
<text x="673.5" y="763" font-family="Liberation Sans" font-size="7.5" fill="#000" text-anchor="middle" textLength="8.4" lengthAdjust="spacingAndGlyphs">58</text>
<rect x="699.0999999999999" y="756" width="10.4" height="8" fill="#fff"/>
<text x="704.3" y="763" font-family="Liberation Sans" font-size="7.5" fill="#000" text-anchor="middle" textLength="8.4" lengthAdjust="spacingAndGlyphs">61</text>
<rect x="729.5999999999999" y="756" width="10.4" height="8" fill="#fff"/>
<text x="734.8" y="763" font-family="Liberation Sans" font-size="7.5" fill="#000" text-anchor="middle" textLength="8.4" lengthAdjust="spacingAndGlyphs">64</text>
<rect x="761.0" y="756" width="10.4" height="8" fill="#fff"/>
<text x="766.2" y="763" font-family="Liberation Sans" font-size="7.5" fill="#000" text-anchor="middle" textLength="8.4" lengthAdjust="spacingAndGlyphs">67</text>
<rect x="781.5999999999999" y="756" width="10.4" height="8" fill="#fff"/>
<text x="786.8" y="763" font-family="Liberation Sans" font-size="7.5" fill="#000" text-anchor="middle" textLength="8.4" lengthAdjust="spacingAndGlyphs">69</text>
<rect x="49.3" y="740" width="10.7" height="4.5" rx="2.25" fill="#b070e0" stroke="#ffff80" stroke-width="1.6"/>
<rect x="59.6" y="721.9" width="10.3" height="5" rx="2.5" fill="#b070e0" stroke="#ffff80" stroke-width="1.6"/>
<rect x="359.5" y="720.7" width="8.3" height="3.4" fill="#a060d8" stroke="#c8a0f0" stroke-width="0.8"/>
<text transform="translate(58.3,735.4) rotate(-90)" x="0" y="0" font-family="Liberation Sans" font-size="10" fill="#b480e4" textLength="32.4" lengthAdjust="spacingAndGlyphs">W05AO</text>
<text transform="translate(68.6,718.2) rotate(-90)" x="0" y="0" font-family="Liberation Sans" font-size="10" fill="#b480e4" textLength="34" lengthAdjust="spacingAndGlyphs">W06AN</text>
<text transform="translate(367.2,717) rotate(-90)" x="0" y="0" font-family="Liberation Sans" font-size="10" fill="#b480e4" textLength="48" lengthAdjust="spacingAndGlyphs">WDWW-LP</text></svg>
</body></html>
